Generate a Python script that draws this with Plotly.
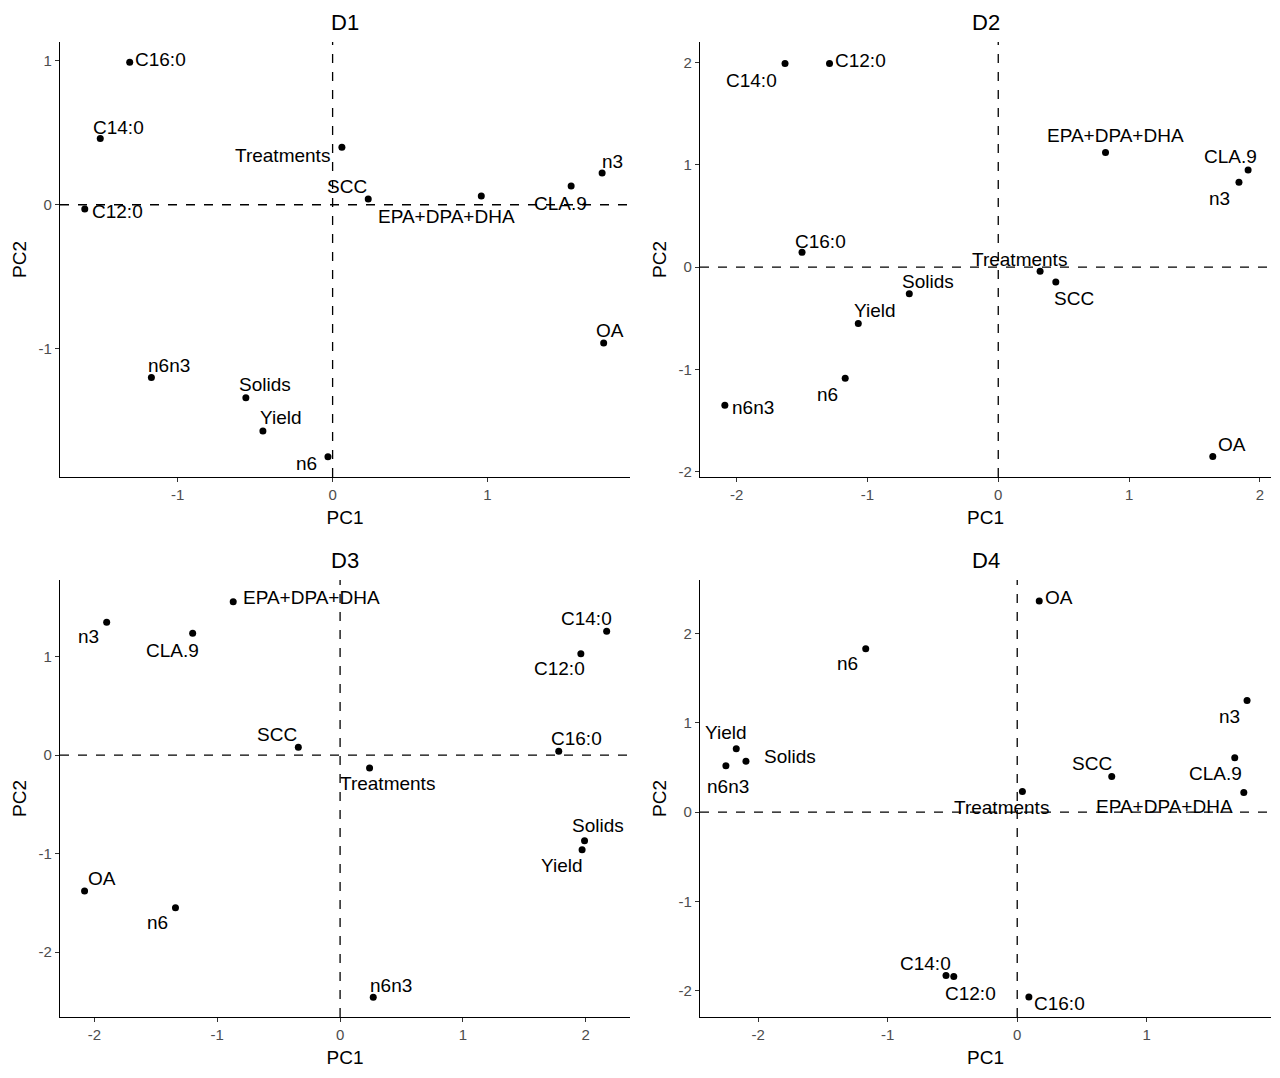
import plotly.graph_objects as go
from plotly.subplots import make_subplots

variables = ['Yield', 'Solids', 'SCC', 'Treatments', 'C12:0', 'C14:0', 'C16:0',
             'OA', 'CLA.9', 'n3', 'n6', 'n6n3', 'EPA+DPA+DHA']

panels = ['D1', 'D2', 'D3', 'D4']

d1_pc1 = [-0.45, -0.56, 0.23, 0.06, -1.60, -1.50, -1.31, 1.75, 1.54, 1.74, -0.03, -1.17, 0.96]
d1_pc2 = [-1.57, -1.34, 0.04, 0.40, -0.03, 0.46, 0.99, -0.96, 0.13, 0.22, -1.75, -1.20, 0.06]

d2_pc1 = [-1.07, -0.68, 0.44, 0.32, -1.29, -1.63, -1.50, 1.64, 1.91, 1.84, -1.17, -2.09, 0.82]
d2_pc2 = [-0.55, -0.26, -0.145, -0.04, 1.99, 1.99, 0.145, -1.85, 0.95, 0.83, -1.085, -1.35, 1.12]

d3_pc1 = [1.97, 1.99, -0.34, 0.24, 1.96, 2.17, 1.78, -2.08, -1.20, -1.90, -1.34, 0.27, -0.87]
d3_pc2 = [-0.96, -0.87, 0.08, -0.13, 1.03, 1.26, 0.04, -1.38, 1.24, 1.35, -1.55, -2.46, 1.56]

d4_pc1 = [-2.17, -2.095, 0.73, 0.04, -0.49, -0.55, 0.09, 0.17, 1.68, 1.775, -1.17, -2.25, 1.75]
d4_pc2 = [0.71, 0.57, 0.40, 0.23, -1.84, -1.83, -2.07, 2.365, 0.61, 1.25, 1.83, 0.52, 0.22]

scores = [(d1_pc1, d1_pc2), (d2_pc1, d2_pc2), (d3_pc1, d3_pc2), (d4_pc1, d4_pc2)]

tick_vals = [-2, -1, 0, 1, 2]
tick_text = ['-2', '-1', '0', '1', '2']

# label placement (pixel shifts, repel-style), same order as variables
label_shift = [
    [(18, 13), (19, 13), (-21, 13), (-59, -8), (33, -2), (18, 11), (31, 3),
     (6, 13), (-11, -17), (10, 12), (-21, -7), (18, 12), (-35, -20)],
    [(17, 13), (19, 12), (18, -16), (-21, 12), (31, 3), (-34, -17), (18, 11),
     (19, 12), (-18, 13), (-19, -16), (-18, -16), (28, -2), (10, 17)],
    [(-20, -16), (13, 15), (-21, 13), (18, -16), (-21, -15), (-20, 13), (18, 13),
     (17, 13), (-20, -17), (-18, -14), (-18, -15), (18, 12), (78, 4)],
    [(-10, 16), (44, 5), (-20, 13), (-21, -16), (17, -17), (-21, 12), (31, -7),
     (20, 3), (-19, -16), (-18, -16), (-18, -15), (2, -21), (-79, -14)],
]

ranges = [
    ([-1.76, 1.92], [-1.89, 1.13]),
    ([-2.28, 2.085], [-2.05, 2.20]),
    ([-2.28, 2.36], [-2.66, 1.78]),
    ([-2.45, 1.96], [-2.295, 2.60]),
]

W, H = 1280, 1078
PAD = 8  # page body margin of the html page
x_dom = [[(60 - PAD) / W, (630 - PAD) / W], [(700 - PAD) / W, (1271 - PAD) / W]]
y_dom = [[1 - (477 - PAD) / H, 1 - (42 - PAD) / H], [1 - (1017 - PAD) / H, 1 - (580 - PAD) / H]]

FONT = 'Liberation Sans, Arial, sans-serif'

fig = make_subplots(rows=2, cols=2)

for i, name in enumerate(panels):
    r, c = i // 2 + 1, i % 2 + 1
    px1, px2 = scores[i]
    fig.add_trace(go.Scatter(x=px1, y=px2, mode='markers', text=variables,
                             marker=dict(color='black', size=7), showlegend=False,
                             hoverinfo='text'), row=r, col=c)
    xr, yr = ranges[i]
    fig.add_shape(type='line', x0=0, x1=0, y0=yr[0], y1=yr[1], row=r, col=c,
                  line=dict(color='black', width=1.3, dash='dash'))
    fig.add_shape(type='line', x0=xr[0], x1=xr[1], y0=0, y1=0, row=r, col=c,
                  line=dict(color='black', width=1.3, dash='dash'))
    ax = '' if i == 0 else str(i + 1)
    for lab, xv, yv, (dx, dy) in zip(variables, px1, px2, label_shift[i]):
        fig.add_annotation(x=xv, y=yv, xref='x' + ax, yref='y' + ax, text=lab,
                           showarrow=False, xshift=dx, yshift=dy,
                           xanchor='center', yanchor='middle',
                           font=dict(family=FONT, size=19, color='black'))
    axis_style = dict(showline=True, linecolor='black', linewidth=1.3, mirror=False,
                      ticks='outside', ticklen=4, tickcolor='#333333', showgrid=False,
                      zeroline=False, automargin=False,
                      tickmode='array', tickvals=tick_vals, ticktext=tick_text,
                      tickfont=dict(family=FONT, size=15, color='#4D4D4D'),
                      title_font=dict(family=FONT, size=19, color='black'))
    fig.update_xaxes(range=xr, domain=x_dom[c - 1], title_text='PC1',
                     title_standoff=8, row=r, col=c, **axis_style)
    fig.update_yaxes(range=yr, domain=y_dom[r - 1], title_text='PC2',
                     title_standoff=6, row=r, col=c, **axis_style)
    fig.add_annotation(x=(x_dom[c - 1][0] + x_dom[c - 1][1]) / 2, y=y_dom[r - 1][1] + 0.005,
                       xref='paper', yref='paper', text=name, showarrow=False,
                       xanchor='center', yanchor='bottom',
                       font=dict(family=FONT, size=22, color='black'))

fig.update_layout(width=W, height=H, margin=dict(l=0, r=0, t=0, b=0),
                  plot_bgcolor='white', paper_bgcolor='white')

fig.write_html('out.html')
